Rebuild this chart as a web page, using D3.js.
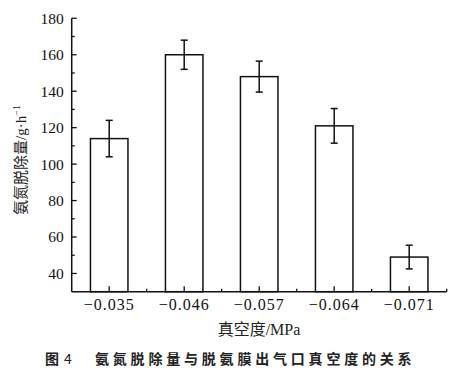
<!DOCTYPE html>
<html>
<head>
<meta charset="utf-8">
<script src="https://cdn.jsdelivr.net/npm/d3@7"></script>
<style>
    body { margin: 0; background: #fff; }
    svg { display: block; }
</style>
</head>
<body>
<div id="chart"></div>
<script>
// data
var categories = ["\u22120.035", "\u22120.046", "\u22120.057", "\u22120.064", "\u22120.071"];
var removal = [114, 160, 148, 121, 49];
var errors = [10, 8, 8.5, 9.5, 6.5];
var yTicks = [40, 60, 80, 100, 120, 140, 160, 180];
var yMinorTicks = [50, 70, 90, 110, 130, 150, 170];

document.addEventListener("DOMContentLoaded", function() {
    var w = 475;
    var h = 377;
    var left = 71.7, right = 446.7, top = 18.3, bottom = 291.7;
    var serif = "Liberation Serif, DejaVu Serif, serif";
    var cjk = "Noto Sans CJK SC, sans-serif";

    var svg = d3.select("#chart")
        .append("svg")
        .attr("width", w)
        .attr("height", h);

    // scales
    var xScale = d3.scaleBand()
        .domain(d3.range(categories.length))
        .range([left, right])
        .padding(0);

    var yScale = d3.scaleLinear()
        .domain([30, 180])
        .range([bottom, top]);

    var barW = xScale.bandwidth() / 2;
    var mid = function(i) { return xScale(i) + xScale.bandwidth() / 2; };

    // bars
    svg.selectAll("rect.bar")
        .data(removal)
        .enter()
        .append("rect")
        .attr("class", "bar")
        .attr("x", function(d, i) { return mid(i) - barW / 2; })
        .attr("y", function(d) { return yScale(d); })
        .attr("width", barW)
        .attr("height", function(d) { return bottom - yScale(d); })
        .attr("fill", "#fff")
        .attr("stroke", "#111")
        .attr("stroke-width", 1.5);

    // error bars
    var eb = svg.selectAll("g.err")
        .data(removal)
        .enter()
        .append("g")
        .attr("class", "err")
        .attr("stroke", "#111")
        .attr("stroke-width", 1.5);

    eb.append("line")
        .attr("x1", function(d, i) { return mid(i); })
        .attr("x2", function(d, i) { return mid(i); })
        .attr("y1", function(d, i) { return yScale(d + errors[i]); })
        .attr("y2", function(d, i) { return yScale(d - errors[i]); });

    [1, -1].forEach(function(sign) {
        eb.append("line")
            .attr("x1", function(d, i) { return mid(i) - 3.5; })
            .attr("x2", function(d, i) { return mid(i) + 3.5; })
            .attr("y1", function(d, i) { return yScale(d + sign * errors[i]); })
            .attr("y2", function(d, i) { return yScale(d + sign * errors[i]); });
    });

    // x axis: ticks point inward
    var xAxis = svg.append("g")
        .attr("transform", "translate(0," + bottom + ")");
    xAxis.append("line")
        .attr("x1", left).attr("x2", right)
        .attr("stroke", "#111").attr("stroke-width", 1.5);
    xAxis.selectAll("line.major")
        .data(categories)
        .enter()
        .append("line")
        .attr("class", "major")
        .attr("x1", function(d, i) { return mid(i); })
        .attr("x2", function(d, i) { return mid(i); })
        .attr("y1", 0).attr("y2", -5.5)
        .attr("stroke", "#111").attr("stroke-width", 1.3);
    xAxis.selectAll("line.minor")
        .data(d3.range(1, categories.length + 1))
        .enter()
        .append("line")
        .attr("class", "minor")
        .attr("x1", function(d) { return xScale(d - 1) + xScale.bandwidth(); })
        .attr("x2", function(d) { return xScale(d - 1) + xScale.bandwidth(); })
        .attr("y1", 0).attr("y2", -3)
        .attr("stroke", "#111").attr("stroke-width", 1.3);
    xAxis.selectAll("text")
        .data(categories)
        .enter()
        .append("text")
        .attr("x", function(d, i) { return mid(i); })
        .attr("y", 18.5)
        .attr("text-anchor", "middle")
        .style("font-family", serif)
        .style("font-size", "16px")
        .style("letter-spacing", "1px")
        .attr("fill", "#111")
        .text(function(d) { return d; });

    // y axis
    var yAxis = svg.append("g")
        .attr("transform", "translate(" + left + ",0)");
    yAxis.append("line")
        .attr("y1", top).attr("y2", bottom)
        .attr("stroke", "#111").attr("stroke-width", 1.5);
    yAxis.selectAll("line.major")
        .data(yTicks)
        .enter()
        .append("line")
        .attr("class", "major")
        .attr("x1", 0).attr("x2", 5)
        .attr("y1", function(d) { return yScale(d); })
        .attr("y2", function(d) { return yScale(d); })
        .attr("stroke", "#111").attr("stroke-width", 1.3);
    yAxis.selectAll("line.minor")
        .data(yMinorTicks)
        .enter()
        .append("line")
        .attr("class", "minor")
        .attr("x1", 0).attr("x2", 3)
        .attr("y1", function(d) { return yScale(d); })
        .attr("y2", function(d) { return yScale(d); })
        .attr("stroke", "#111").attr("stroke-width", 1.3);
    yAxis.selectAll("text")
        .data(yTicks)
        .enter()
        .append("text")
        .attr("x", -8)
        .attr("y", function(d) { return yScale(d); })
        .attr("dy", "0.35em")
        .attr("text-anchor", "end")
        .style("font-family", serif)
        .style("font-size", "15.5px")
        .attr("fill", "#111")
        .text(function(d) { return d; });

    // y axis title: CJK part, then serif unit with superscript
    var yTitle = svg.append("text")
        .attr("transform", "translate(26,160) rotate(-90)")
        .attr("text-anchor", "middle")
        .style("font-size", "15px")
        .attr("fill", "#222");
    yTitle.append("tspan").style("font-family", cjk).text("氨氮脱除量");
    yTitle.append("tspan").style("font-family", serif).text("/g·h");
    yTitle.append("tspan")
        .attr("dy", -6)
        .style("font-family", serif)
        .style("font-size", "10px")
        .text("\u22121");

    // x axis title
    var xTitle = svg.append("text")
        .attr("x", 259)
        .attr("y", 335)
        .attr("text-anchor", "middle")
        .style("font-size", "16px")
        .attr("fill", "#222");
    xTitle.append("tspan").style("font-family", cjk).text("真空度");
    xTitle.append("tspan").style("font-family", serif).text("/MPa");

    // caption
    var cap = svg.append("g")
        .style("font-family", cjk)
        .style("font-size", "14px")
        .style("font-weight", "bold")
        .attr("fill", "#222");
    cap.append("text").attr("x", 45).attr("y", 364).text("图");
    cap.append("text").attr("x", 64).attr("y", 364).style("font-weight", "normal").text("4");
    cap.append("text").attr("x", 95).attr("y", 364)
        .style("letter-spacing", "3.8px")
        .text("氨氮脱除量与脱氨膜出气口真空度的关系");
});
</script>
</body>
</html>
